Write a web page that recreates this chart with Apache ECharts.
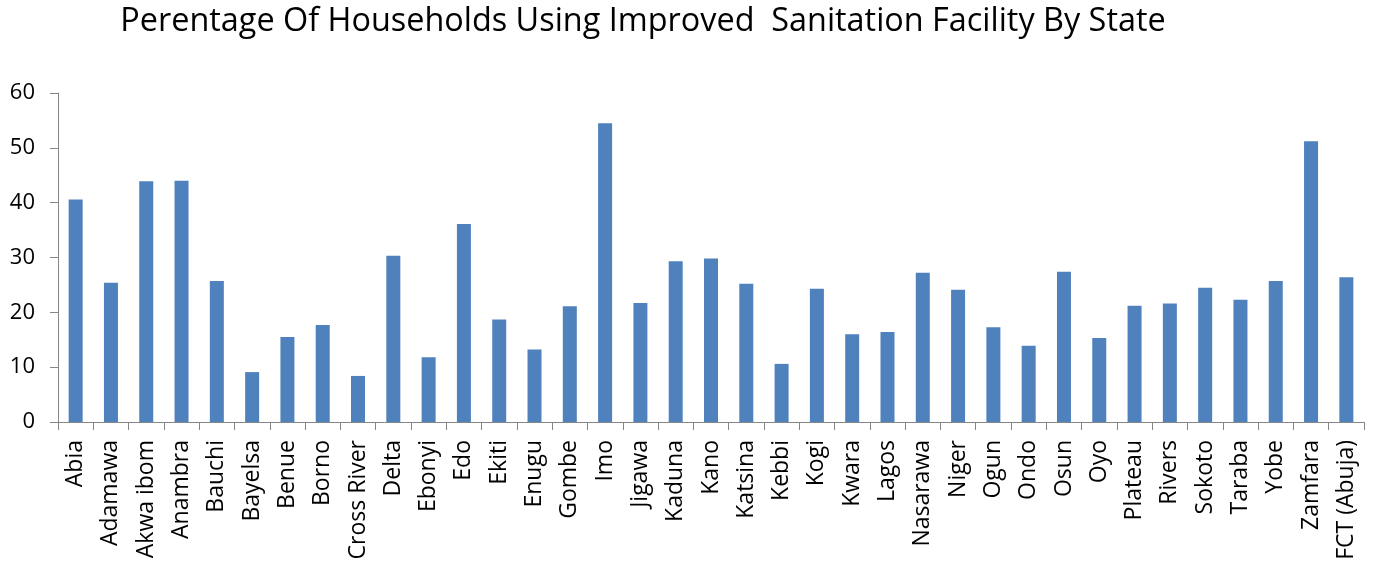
<!DOCTYPE html>
<html>
<head>
<meta charset="utf-8">
<script src="https://cdn.jsdelivr.net/npm/echarts@6/dist/echarts.min.js"></script>
<style>
html,body{margin:0;padding:0;background:#fff;}
#chart{width:1379px;height:570px;}
</style>
</head>
<body>
<div id="chart"></div>
<script>
const titleText = "Perentage Of Households Using Improved  Sanitation Facility By State";
const states = ["Abia","Adamawa","Akwa ibom","Anambra","Bauchi","Bayelsa","Benue","Borno","Cross River","Delta","Ebonyi","Edo","Ekiti","Enugu","Gombe","Imo","Jigawa","Kaduna","Kano","Katsina","Kebbi","Kogi","Kwara","Lagos","Nasarawa","Niger","Ogun","Ondo","Osun","Oyo","Plateau","Rivers","Sokoto","Taraba","Yobe","Zamfara","FCT (Abuja)"];
const percentages = [40.6,25.4,43.9,44.0,25.7,9.1,15.5,17.7,8.4,30.3,11.8,36.1,18.7,13.2,21.1,54.5,21.7,29.3,29.8,25.2,10.6,24.3,16.0,16.4,27.2,24.1,17.3,13.9,27.4,15.3,21.2,21.6,24.5,22.3,25.7,51.2,26.4];
const yTicks = {min:0, max:60, interval:10};

const chart = echarts.init(document.getElementById('chart'));
const font = '"Open Sans", "Liberation Sans", sans-serif';
chart.setOption({
  animation:false,
  backgroundColor:'#ffffff',
  title:{
    text:titleText,
    left:638, top:1, textAlign:'center',
    textStyle:{fontFamily:font, fontSize:32.4, fontWeight:'normal', color:'#000000'}
  },
  grid:{left:58, right:15, top:93, bottom:148, containLabel:false},
  xAxis:{
    type:'category',
    data:states,
    boundaryGap:true,
    axisLine:{show:true, lineStyle:{color:'#868686', width:1}},
    axisTick:{show:true, alignWithLabel:false, length:8, inside:false, lineStyle:{color:'#868686'}},
    axisLabel:{rotate:90, interval:0, margin:18, color:'#000000', fontFamily:font, fontSize:23}
  },
  yAxis:{
    type:'value',
    min:yTicks.min, max:yTicks.max, interval:yTicks.interval,
    splitLine:{show:false},
    axisLine:{show:true, lineStyle:{color:'#868686', width:1}},
    axisTick:{show:true, length:8, lineStyle:{color:'#868686'}},
    axisLabel:{margin:23, color:'#000000', fontFamily:font, fontSize:22}
  },
  series:[{
    type:'bar',
    data:percentages,
    barWidth:14,
    itemStyle:{color:'#4F81BD'}
  }]
});
</script>
</body>
</html>
